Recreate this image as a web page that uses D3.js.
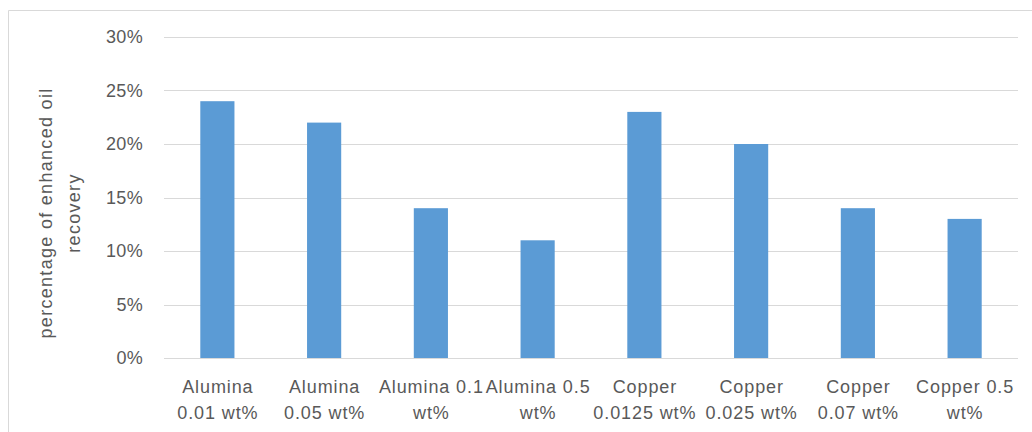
<!DOCTYPE html>
<html><head><meta charset="utf-8">
<script src="https://cdn.jsdelivr.net/npm/d3@7"></script>
<style>body{margin:0;background:#fff}svg{display:block}text{font-family:"Liberation Sans",Arial,sans-serif;fill:#595959}</style>
</head><body>
<svg id="c" width="1032" height="432"></svg>
<script>
const categories = [["Alumina","0.01 wt%"],["Alumina","0.05 wt%"],["Alumina 0.1","wt%"],["Alumina 0.5","wt%"],["Copper","0.0125 wt%"],["Copper","0.025 wt%"],["Copper","0.07 wt%"],["Copper 0.5","wt%"]];
const values = [0.24, 0.22, 0.14, 0.11, 0.23, 0.20, 0.14, 0.13];
const yTicks = [0, 0.05, 0.10, 0.15, 0.20, 0.25, 0.30];
const yTitle = ["percentage of enhanced oil", "recovery"];

(function(){
const svg = d3.select("#c");
const pL = 164, pR = 1018, pT = 37, pB = 358;
const keys = categories.map((d,i)=>i);
const x = d3.scaleBand().domain(keys).range([pL,pR]).paddingInner(0.68).paddingOuter(0.34);
const y = d3.scaleLinear().domain([0,0.30]).range([pB,pT]);

// frame
svg.append("path").attr("d","M8.5,432 V10.5 H1032").attr("fill","none").attr("stroke","#d9d9d9").attr("stroke-width",1);

// grid
svg.append("g").selectAll("line").data(yTicks.filter(t=>t>0)).join("line")
  .attr("x1",pL).attr("x2",pR).attr("y1",d=>Math.round(y(d))+0.5).attr("y2",d=>Math.round(y(d))+0.5)
  .attr("stroke","#d9d9d9").attr("stroke-width",1.2);

// y labels
svg.append("g").selectAll("text").data(yTicks).join("text")
  .attr("x",143).attr("y",d=>y(d)).attr("dy","0.36em").attr("text-anchor","end")
  .style("font-size","18px").style("letter-spacing","0.3px").text(d3.format(".0%"));

// bars
svg.append("g").selectAll("rect").data(values).join("rect")
  .attr("x",(d,i)=>x(i)).attr("width",x.bandwidth())
  .attr("y",d=>y(d)).attr("height",d=>pB-y(d)).attr("fill","#5b9bd5");

// axis line
svg.append("line").attr("x1",pL).attr("x2",pR).attr("y1",pB+0.5).attr("y2",pB+0.5).attr("stroke","#d9d9d9").attr("stroke-width",1.2);

// x labels
const xl = svg.append("g").selectAll("text").data(categories).join("text")
  .attr("text-anchor","middle").style("font-size","18px").style("letter-spacing","0.9px");
xl.each(function(d,i){
  const t = d3.select(this);
  d.forEach((line,j)=>t.append("tspan").attr("x",x(i)+x.bandwidth()/2+0.5).attr("y",393+j*26).text(line));
});

// y title
const yt = svg.append("text").attr("transform","translate(0,213) rotate(-90)").attr("text-anchor","middle").style("font-size","18px").style("letter-spacing","1.3px");
yTitle.forEach((line,j)=>yt.append("tspan").attr("x",0).attr("y",52+j*28).text(line));
})();
</script>
</body></html>
